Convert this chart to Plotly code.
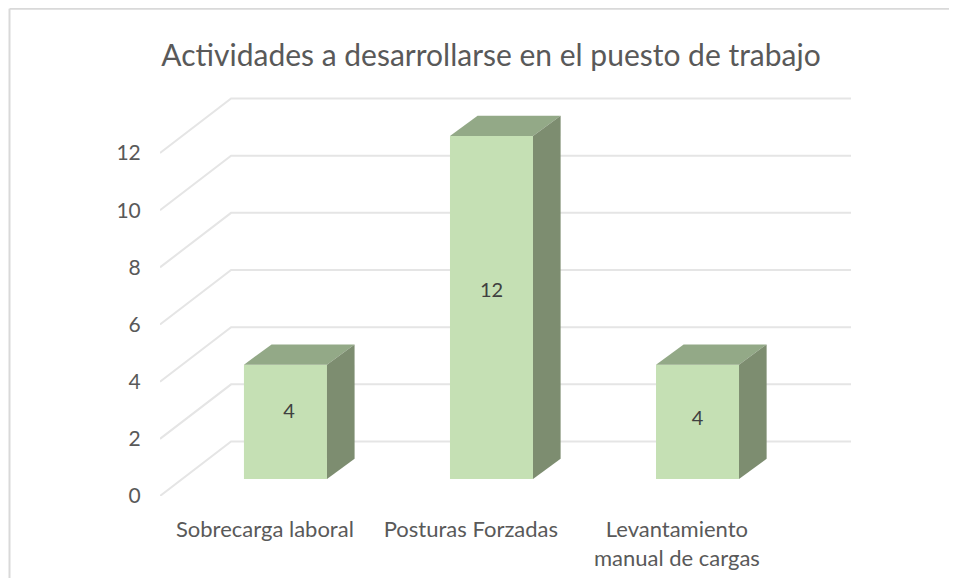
import plotly.graph_objects as go

# chart data
categories = ["Sobrecarga laboral", "Posturas Forzadas", "Levantamiento"]
categories_line2 = ["", "", "manual de cargas"]
values = [4, 12, 4]
y_ticks = [0, 2, 4, 6, 8, 10, 12]

# fake 3D geometry, in axis units (1 x unit = 206 px, 1 y unit = 28.6 px)
WALL_DX = 0.345
WALL_DY = 1.906
BAR_WIDTH = 0.403
BAR_DX = 0.134
BAR_DY = 0.71
BAR_BASE = 0.594
X_MIN, X_MAX = -0.609, 2.745
Y_MAX = 13.96
LABEL_SHIFT = 0.1
# data labels are not quite centred on the bars
LABEL_NUDGE_X = [0.017, 0, 0]
LABEL_NUDGE_Y = [0.31, 0.55, 0.05]

FRONT = "#c5e0b4"
TOP = "#93a987"
SIDE = "#7d8d70"
GRID = "#e5e5e5"
FRAME = "#d9d9d9"
TEXT = "#595959"
FONT = "Lato"

# the page puts the figure 8 px in from the corner
W, H = 949, 570
M_L, M_R, M_T, M_B = 152, 106, 88.7, 82
PLOT_W = W - M_L - M_R
PLOT_H = H - M_T - M_B

fig = go.Figure()

# floor and wall gridlines, as shapes so they stay behind the bars
for v in y_ticks:
    fig.add_shape(type="path", xref="x", yref="y", layer="below",
                  path=f"M {X_MIN} {v} L {X_MIN + WALL_DX} {v + WALL_DY} L {X_MAX} {v + WALL_DY}",
                  line=dict(color=GRID, width=2))

# columns: front face as a bar, top and side as filled polygons
positions = list(range(len(values)))
fig.add_trace(go.Bar(
    x=positions, y=values, base=BAR_BASE, width=BAR_WIDTH,
    marker=dict(color=FRONT, line=dict(width=0)),
    showlegend=False,
))
for pos, val in zip(positions, values):
    left = pos - BAR_WIDTH / 2
    right = pos + BAR_WIDTH / 2
    top = BAR_BASE + val
    fig.add_trace(go.Scatter(
        x=[left, left + BAR_DX, right + BAR_DX, right, left],
        y=[top, top + BAR_DY, top + BAR_DY, top, top],
        mode="lines", fill="toself", fillcolor=TOP, line=dict(width=0),
        hoverinfo="skip", showlegend=False,
    ))
    fig.add_trace(go.Scatter(
        x=[right, right + BAR_DX, right + BAR_DX, right, right],
        y=[BAR_BASE, BAR_BASE + BAR_DY, top + BAR_DY, top, BAR_BASE],
        mode="lines", fill="toself", fillcolor=SIDE, line=dict(width=0),
        hoverinfo="skip", showlegend=False,
    ))

# data labels
fig.add_trace(go.Scatter(
    x=[p + n for p, n in zip(positions, LABEL_NUDGE_X)],
    y=[BAR_BASE + v / 2 + n for v, n in zip(values, LABEL_NUDGE_Y)],
    text=values, mode="text", textposition="middle center",
    textfont=dict(color="#404040", size=20, family=FONT),
    hoverinfo="skip", showlegend=False,
))

tick_positions = [p - LABEL_SHIFT for p in positions]
fig.update_layout(
    width=W, height=H,
    margin=dict(l=M_L, r=M_R, t=M_T, b=M_B),
    paper_bgcolor="white", plot_bgcolor="rgba(0,0,0,0)",
    font=dict(family=FONT, color=TEXT),
    title=dict(
        text="Actividades a desarrollarse en el puesto de trabajo",
        font=dict(size=30, color=TEXT, family=FONT),
        x=483 / W, xanchor="center", y=1 - 47 / H, yanchor="middle",
    ),
    showlegend=False,
    xaxis=dict(
        range=[X_MIN, X_MAX], showgrid=False, zeroline=False, showline=False,
        tickmode="array", tickvals=tick_positions, ticktext=categories,
        ticks="outside", ticklen=14, tickcolor="rgba(0,0,0,0)", automargin=False,
        tickfont=dict(size=22, color=TEXT, family=FONT),
    ),
    xaxis2=dict(
        range=[X_MIN, X_MAX], overlaying="x", anchor="y", side="bottom",
        showgrid=False, zeroline=False, showline=False,
        tickmode="array", tickvals=tick_positions, ticktext=categories_line2,
        ticks="outside", ticklen=43, tickcolor="rgba(0,0,0,0)", automargin=False,
        tickfont=dict(size=22, color=TEXT, family=FONT),
    ),
    yaxis=dict(
        range=[0, Y_MAX], showgrid=False, zeroline=False, showline=False,
        tickmode="array", tickvals=y_ticks,
        ticks="outside", ticklen=14, tickcolor="rgba(0,0,0,0)", automargin=False,
        tickfont=dict(size=21, color=TEXT, family=FONT),
    ),
)
# empty marker trace so the second x axis gets drawn
fig.add_trace(go.Scatter(x=[X_MIN], y=[0], xaxis="x2", mode="markers",
                         marker=dict(opacity=0), hoverinfo="skip", showlegend=False))

# chart frame, only the left and top edges are in the crop
frame_x = (1.5 - M_L) / PLOT_W
frame_y = 1 + (M_T - 0.5) / PLOT_H
fig.add_shape(type="line", xref="paper", yref="paper",
              x0=frame_x, x1=frame_x, y0=-M_B / PLOT_H, y1=frame_y,
              line=dict(color=FRAME, width=2))
fig.add_shape(type="line", xref="paper", yref="paper",
              x0=frame_x, x1=1 + M_R / PLOT_W, y0=frame_y, y1=frame_y,
              line=dict(color=FRAME, width=2))

fig.write_html("out.html")
